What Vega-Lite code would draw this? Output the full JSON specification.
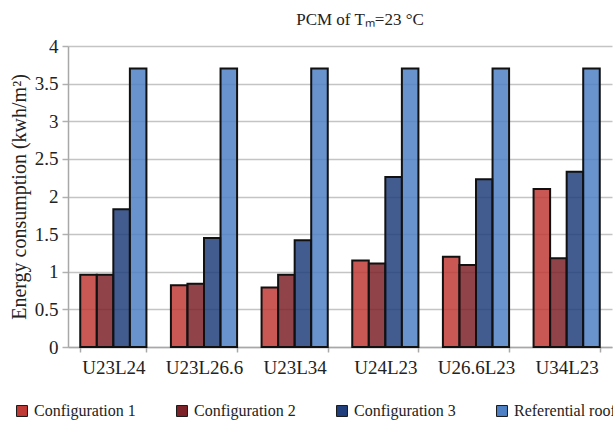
{
  "$schema": "https://vega.github.io/schema/vega-lite/v6.json",
  "width": 544,
  "height": 301,
  "autosize": {"type": "none"},
  "padding": {"left": 68, "top": 46, "right": 1, "bottom": 88},
  "background": "white",
  "title": {"text": "PCM of Tₘ=23 °C", "font": "Liberation Serif", "fontSize": 17, "fontWeight": "normal", "color": "#222222", "anchor": "middle", "dx": 20, "offset": 8},
  "data": {"values": [
    {"group": "U23L24", "config": "Configuration 1", "value": 0.96},
    {"group": "U23L24", "config": "Configuration 2", "value": 0.96},
    {"group": "U23L24", "config": "Configuration 3", "value": 1.83},
    {"group": "U23L24", "config": "Referential roof", "value": 3.70},
    {"group": "U23L26.6", "config": "Configuration 1", "value": 0.82},
    {"group": "U23L26.6", "config": "Configuration 2", "value": 0.84},
    {"group": "U23L26.6", "config": "Configuration 3", "value": 1.45},
    {"group": "U23L26.6", "config": "Referential roof", "value": 3.70},
    {"group": "U23L34", "config": "Configuration 1", "value": 0.79},
    {"group": "U23L34", "config": "Configuration 2", "value": 0.96},
    {"group": "U23L34", "config": "Configuration 3", "value": 1.42},
    {"group": "U23L34", "config": "Referential roof", "value": 3.70},
    {"group": "U24L23", "config": "Configuration 1", "value": 1.15},
    {"group": "U24L23", "config": "Configuration 2", "value": 1.11},
    {"group": "U24L23", "config": "Configuration 3", "value": 2.26},
    {"group": "U24L23", "config": "Referential roof", "value": 3.70},
    {"group": "U26.6L23", "config": "Configuration 1", "value": 1.20},
    {"group": "U26.6L23", "config": "Configuration 2", "value": 1.09},
    {"group": "U26.6L23", "config": "Configuration 3", "value": 2.23},
    {"group": "U26.6L23", "config": "Referential roof", "value": 3.70},
    {"group": "U34L23", "config": "Configuration 1", "value": 2.10},
    {"group": "U34L23", "config": "Configuration 2", "value": 1.18},
    {"group": "U34L23", "config": "Configuration 3", "value": 2.33},
    {"group": "U34L23", "config": "Referential roof", "value": 3.70}
  ]},
  "mark": {"type": "bar", "stroke": "#111111", "strokeWidth": 2, "fillOpacity": 0.85, "strokeOpacity": 1},
  "encoding": {
    "x": {
      "field": "group", "type": "nominal",
      "sort": ["U23L24", "U23L26.6", "U23L34", "U24L23", "U26.6L23", "U34L23"],
      "scale": {"paddingInner": 0.27, "paddingOuter": 0.135},
      "axis": {"title": null, "labelAngle": 0, "labelFont": "Times New Roman", "labelFontSize": 19, "labelColor": "#222222", "labelPadding": 6, "labelOverlap": false, "tickBand": "extent", "ticks": true, "tickSize": 5, "tickColor": "#a8a8a8", "tickWidth": 1.5, "domainColor": "#a8a8a8", "domainWidth": 1.5, "grid": false}
    },
    "xOffset": {"field": "config", "type": "nominal", "sort": ["Configuration 1", "Configuration 2", "Configuration 3", "Referential roof"], "scale": {"paddingInner": 0, "paddingOuter": 0}},
    "y": {
      "field": "value", "type": "quantitative",
      "scale": {"domain": [0, 4]},
      "axis": {"title": "Energy consumption (kwh/m²)", "titleFont": "Liberation Serif", "titleFontSize": 20, "titleFontWeight": "normal", "titleColor": "#222222", "titlePadding": 5, "values": [0, 0.5, 1, 1.5, 2, 2.5, 3, 3.5, 4], "format": "~g", "labelFont": "Times New Roman", "labelFontSize": 19, "labelColor": "#222222", "labelPadding": 4, "grid": true, "gridColor": "#c4c4c4", "gridWidth": 1.5, "tickSize": 6, "tickColor": "#b0b0b0", "tickWidth": 1.5, "domainColor": "#a8a8a8", "domainWidth": 1.5}
    },
    "color": {
      "field": "config", "type": "nominal",
      "scale": {"domain": ["Configuration 1", "Configuration 2", "Configuration 3", "Referential roof"], "range": ["#c03a36", "#7d2228", "#213f7c", "#4d80c4"]},
      "legend": {"title": null, "orient": "none", "legendX": -54, "legendY": 357, "direction": "horizontal", "columns": 4, "symbolType": "square", "symbolSize": 120, "symbolStrokeColor": "#1a1a1a", "symbolStrokeWidth": 1, "symbolOpacity": 1, "labelFont": "Times New Roman", "labelFontSize": 16, "labelColor": "#222222", "labelOffset": 4, "columnPadding": 38, "labelLimit": 200}
    }
  },
  "config": {"view": {"stroke": null}, "font": "Liberation Serif"}
}
